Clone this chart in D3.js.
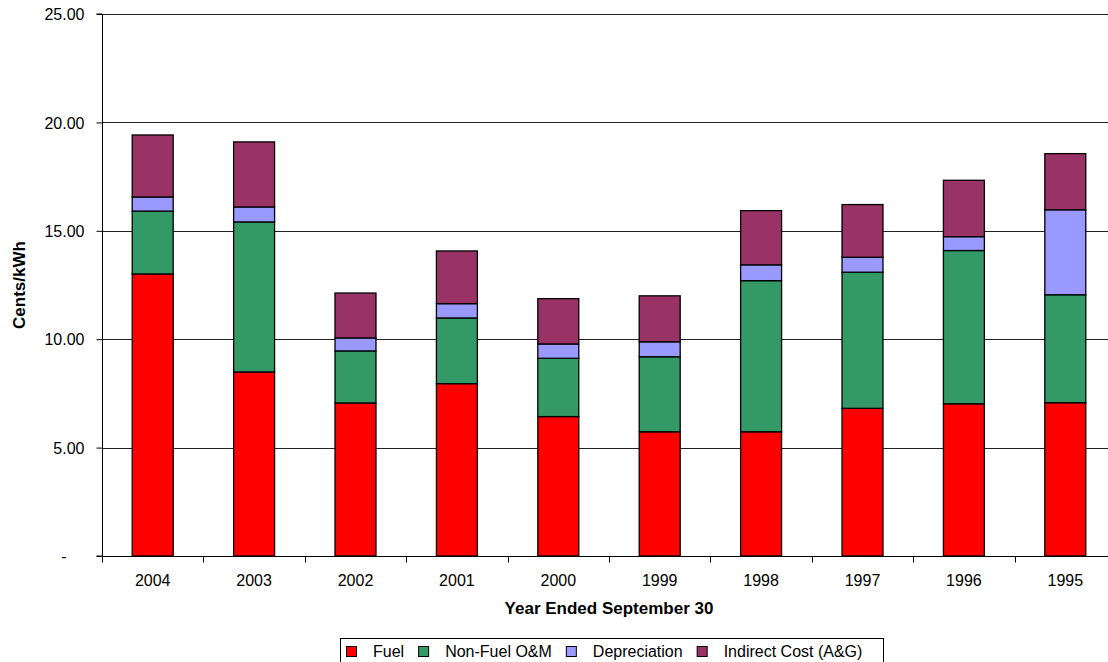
<!DOCTYPE html>
<html>
<head>
<meta charset="utf-8">
<script src="https://cdn.jsdelivr.net/npm/d3@7"></script>
<style>
  body { margin: 0; background: #fff; }
  svg text { font-family: "Liberation Sans", Arial, sans-serif; fill: #000; }
</style>
</head>
<body>
<div id="chart"></div>
<script>
// categories and series (cents/kWh)
var years = ["2004", "2003", "2002", "2001", "2000", "1999", "1998", "1997", "1996", "1995"];
var fuel       = [13.01, 8.49, 7.06, 7.95, 6.43, 5.73, 5.73, 6.81, 7.02, 7.07];
var nonFuelOM  = [2.90, 6.92, 2.40, 3.03, 2.69, 3.46, 6.97, 6.28, 7.07, 4.98];
var depreciation = [0.65, 0.69, 0.60, 0.66, 0.66, 0.69, 0.73, 0.69, 0.64, 3.92];
var indirect   = [2.86, 3.00, 2.07, 2.43, 2.09, 2.12, 2.50, 2.43, 2.60, 2.59];
var yTicks = [0, 5, 10, 15, 20, 25];

var seriesNames = ["Fuel", "Non-Fuel O&M", "Depreciation", "Indirect Cost (A&G)"];
var seriesColors = ["#ff0000", "#339966", "#9999ff", "#993366"];

var W = 1108, H = 662;
var plot = {left: 102, right: 1116, top: 14, bottom: 556};

var svg = d3.select("#chart")
  .append("svg")
    .attr("width", W)
    .attr("height", H);

// build table for stacking
var table = years.map(function(y, i) {
  return {
    year: y,
    "Fuel": fuel[i],
    "Non-Fuel O&M": nonFuelOM[i],
    "Depreciation": depreciation[i],
    "Indirect Cost (A&G)": indirect[i]
  };
});
var stacked = d3.stack().keys(seriesNames)(table);

var x = d3.scaleBand()
  .domain(years)
  .range([plot.left, plot.right])
  .padding(0);

var y = d3.scaleLinear()
  .domain([0, 25])
  .range([plot.bottom, plot.top]);

var barW = x.bandwidth() * 0.404;

// gridlines
svg.append("g")
  .selectAll("line")
  .data(yTicks.filter(function(d) { return d > 0; }))
  .enter()
  .append("line")
    .attr("x1", plot.left)
    .attr("x2", plot.right)
    .attr("y1", function(d) { return Math.round(y(d)) + 0.5; })
    .attr("y2", function(d) { return Math.round(y(d)) + 0.5; })
    .attr("stroke", "#222")
    .attr("stroke-width", 1);

// bars
svg.append("g")
  .selectAll("g")
  .data(stacked)
  .enter()
  .append("g")
    .attr("fill", function(d, i) { return seriesColors[i]; })
  .selectAll("rect")
  .data(function(d) { return d; })
  .enter()
  .append("rect")
    .attr("x", function(d) { return x(d.data.year) + (x.bandwidth() - barW) / 2; })
    .attr("y", function(d) { return y(d[1]); })
    .attr("width", barW)
    .attr("height", function(d) { return y(d[0]) - y(d[1]); })
    .attr("stroke", "#000")
    .attr("stroke-width", 1.3);

// y axis
var yAxis = svg.append("g")
  .attr("transform", "translate(" + (plot.left + 0.5) + ",0)")
  .call(d3.axisLeft(y)
    .tickValues(yTicks)
    .tickSize(6)
    .tickPadding(12)
    .tickFormat(function(d) { return d === 0 ? "-" : d3.format(".2f")(d); }));
yAxis.select(".domain").attr("stroke", "#000").attr("d", "M-6," + plot.top + "H0V" + plot.bottom + "H-6");
yAxis.selectAll(".tick line").attr("stroke", "#000");
yAxis.selectAll(".tick text")
  .style("font-size", "16px")
  .attr("dy", "0.36em")
  .attr("x", function(d) { return d === 0 ? -36 : -18; });

// x axis
var xAxis = svg.append("g")
  .attr("transform", "translate(0," + (plot.bottom + 0.5) + ")")
  .call(d3.axisBottom(x).tickSize(0).tickPadding(18));
xAxis.select(".domain").attr("stroke", "#000").attr("d", "M" + plot.left + ",0H" + plot.right);
xAxis.selectAll(".tick text").style("font-size", "16px");
// ticks between categories
xAxis.append("g")
  .selectAll("line")
  .data(years)
  .enter()
  .append("line")
    .attr("x1", function(d) { return Math.round(x(d)) + 0.5; })
    .attr("x2", function(d) { return Math.round(x(d)) + 0.5; })
    .attr("y1", 0)
    .attr("y2", 6)
    .attr("stroke", "#000");

// axis titles
svg.append("text")
  .attr("transform", "translate(25,285) rotate(-90)")
  .attr("text-anchor", "middle")
  .style("font-size", "17px")
  .style("font-weight", "bold")
  .text("Cents/kWh");

svg.append("text")
  .attr("x", (plot.left + plot.right) / 2)
  .attr("y", 614)
  .attr("text-anchor", "middle")
  .style("font-size", "17px")
  .style("font-weight", "bold")
  .text("Year Ended September 30");

// legend: square, text, gap, next square ...
var legend = svg.append("g");
legend.append("rect")
  .attr("x", 340.5)
  .attr("y", 638.5)
  .attr("width", 543)
  .attr("height", 30)
  .attr("fill", "#fff")
  .attr("stroke", "#000");
var lx = 346;
seriesNames.forEach(function(name, i) {
  legend.append("rect")
    .attr("x", lx + 0.5)
    .attr("y", 646.5)
    .attr("width", 10)
    .attr("height", 10)
    .attr("fill", seriesColors[i])
    .attr("stroke", "#000");
  var t = legend.append("text")
    .attr("x", lx + 27)
    .attr("y", 657)
    .style("font-size", "16px")
    .text(name);
  lx = lx + 27 + t.node().getComputedTextLength() + 14;
});
</script>
</body>
</html>
